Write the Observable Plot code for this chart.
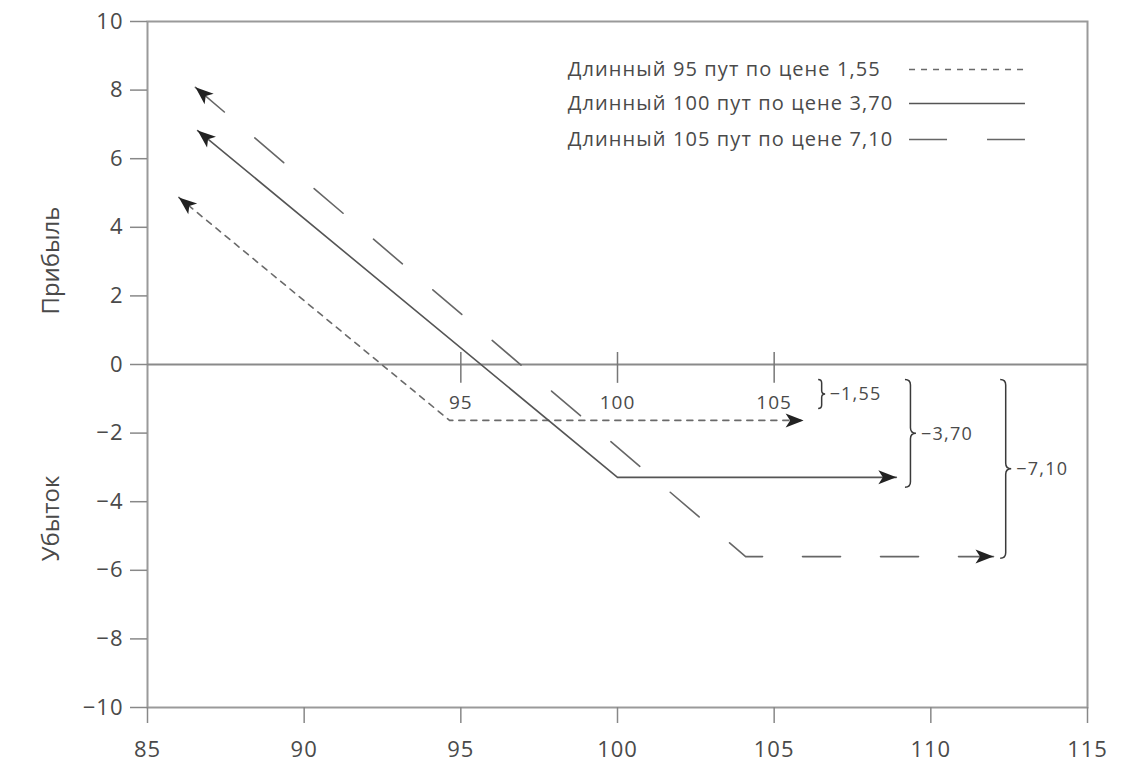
<!DOCTYPE html>
<html>
<head>
<meta charset="utf-8">
<script src="https://cdn.jsdelivr.net/npm/d3@7"></script>
<script src="https://cdn.jsdelivr.net/npm/@observablehq/plot@0.6"></script>
<style>
  html, body { margin: 0; padding: 0; background: #fff; }
  #chart { width: 1131px; height: 778px; }
  #chart svg [aria-label$="tick label"], #chart svg [aria-label$="tick label"] text {
    font-size: 22px; letter-spacing: 1px; fill: #4a4a4a;
  }
</style>
</head>
<body>
<div id="chart"></div>
<script>
// ---- Data ----
const xTicks = [85, 90, 95, 100, 105, 110, 115];
const yTicks = [-10, -8, -6, -4, -2, 0, 2, 4, 6, 8, 10];
const strikes = [95, 100, 105];

const put95X = [86.0, 94.64, 105.94];
const put95Y = [4.87, -1.63, -1.63];
const put100X = [86.6, 100.0, 108.9];
const put100Y = [6.82, -3.29, -3.29];
const put105X = [86.53, 104.09, 112.0];
const put105Y = [8.08, -5.6, -5.6];

const legendLabels = [
  "Длинный 95 пут по цене 1,55",
  "Длинный 100 пут по цене 3,70",
  "Длинный 105 пут по цене 7,10"
];
const braceX = [106.42, 109.19, 112.23];
const braceTop = [-0.45, -0.45, -0.45];
const braceBottom = [-1.3, -3.59, -5.66];
const braceLabels = ["−1,55", "−3,70", "−7,10"];
const axisTitles = ["Прибыль", "Убыток"];

// ---- Layout ----
const W = 1131, H = 778;
const mL = 147, mR = 44, mT = 21, mB = 71;
const kx = (W - mL - mR) / 30, ky = (H - mT - mB) / 20;
const FONT = "Open Sans, Noto Sans, sans-serif";
const TXT = "#4a4a4a";

const styles = [
  {stroke: "#6a6a6a", dash: "6,6", width: 1.6},
  {stroke: "#555", dash: null, width: 1.6},
  {stroke: "#666", dash: "38,40", width: 1.6}
];
const series = [[put95X, put95Y], [put100X, put100Y], [put105X, put105Y]];

// arrowhead symbol: tip at origin, pointing "up"
const arrowHead = {
  draw(ctx) {
    ctx.moveTo(0, 0);
    ctx.lineTo(7, 18);
    ctx.lineTo(0, 13.5);
    ctx.lineTo(-7, 18);
    ctx.closePath();
  }
};
function angle(dx, dy) { return Math.atan2(dx * kx, dy * ky) * 180 / Math.PI; }

const heads = [];
series.forEach(([X, Y]) => {
  const n = X.length;
  heads.push({x: X[0], y: Y[0], r: angle(X[0] - X[1], Y[0] - Y[1])});
  heads.push({x: X[n - 1], y: Y[n - 1], r: angle(X[n - 1] - X[n - 2], Y[n - 1] - Y[n - 2])});
});

// legend placement (data coordinates)
const legTextX = 98.41, legLineX1 = 109.32, legLineX2 = 113.02;
const legY = [8.6, 7.61, 6.56];

const marks = [
  Plot.frame({stroke: "#9a9a9a", strokeWidth: 2}),
  Plot.axisX({ticks: xTicks, tickSize: 16, tickPadding: 18, tickFormat: d => String(d),
    label: null, stroke: "#888", strokeWidth: 1.5, color: TXT}),
  Plot.axisY({ticks: yTicks, tickSize: 17, tickPadding: 7, label: null,
    stroke: "#888", strokeWidth: 1.5, color: TXT}),
  Plot.ruleY([0], {stroke: "#8a8a8a", strokeWidth: 2}),
  Plot.ruleX(strikes, {x: d => d, y1: 0.35, y2: -0.55, stroke: "#777", strokeWidth: 1.5}),
  Plot.text(strikes, {x: d => d, y: -1.12, text: d => String(d), fill: TXT, fontSize: 19}),
];

series.forEach(([X, Y], i) => {
  marks.push(Plot.line(Y, {x: X, y: Y, stroke: styles[i].stroke, strokeWidth: styles[i].width,
    strokeDasharray: styles[i].dash, curve: "linear"}));
  marks.push(Plot.ruleY([legY[i]], {x1: legLineX1, x2: legLineX2, stroke: styles[i].stroke,
    strokeWidth: styles[i].width, strokeDasharray: styles[i].dash}));
});

marks.push(Plot.dot(heads, {x: "x", y: "y", rotate: "r", symbol: arrowHead, fill: "#222", stroke: "none", r: 5}));
marks.push(Plot.text(legendLabels, {x: legTextX, y: (d, i) => legY[i], text: d => d, textAnchor: "start",
  fill: TXT, fontSize: 20}));

// braces
marks.push((index, scales) => {
  const g = d3.create("svg:g").attr("fill", "none").attr("stroke", "#3a3a3a").attr("stroke-width", 1.5);
  braceX.forEach((bx, i) => {
    const x = scales.x(bx), t = scales.y(braceTop[i]), b = scales.y(braceBottom[i]);
    const m = (t + b) / 2, w = i === 0 ? 7 : 11, h = w / 2;
    const d = `M${x},${t} Q${x + h},${t} ${x + h},${t + h} L${x + h},${m - h} Q${x + h},${m} ${x + w},${m}` +
      ` Q${x + h},${m} ${x + h},${m + h} L${x + h},${b - h} Q${x + h},${b} ${x},${b}`;
    g.append("path").attr("d", d);
  });
  return g.node();
});
marks.push(Plot.text(braceLabels, {
  x: (d, i) => braceX[i] + (i === 0 ? 0.35 : 0.5),
  y: (d, i) => (braceTop[i] + braceBottom[i]) / 2,
  text: d => d, textAnchor: "start", fill: TXT, fontSize: 18
}));

// y-axis titles
marks.push(Plot.text(axisTitles, {x: 81.94, y: (d, i) => [3.03, -4.49][i], text: d => d, rotate: -90,
  fill: TXT, fontSize: 24}));

const chart = Plot.plot({
  width: W, height: H,
  marginLeft: mL, marginRight: mR, marginTop: mT, marginBottom: mB,
  style: {fontFamily: FONT, fontSize: "20px", color: TXT, background: "#fff"},
  x: {domain: [85, 115], label: null},
  y: {domain: [-10, 10], label: null},
  marks
});

// widen letter spacing to mimic the reference's wide typeface
chart.querySelectorAll("text").forEach(t => {
  const s = t.textContent;
  if (legendLabels.includes(s)) t.style.letterSpacing = "1.1px";
  else if (braceLabels.includes(s)) t.style.letterSpacing = "1.2px";
  else if (strikes.map(String).includes(s) && !t.closest('[aria-label$="tick label"]')) t.style.letterSpacing = "1px";
});
document.getElementById("chart").appendChild(chart);
</script>
</body>
</html>
